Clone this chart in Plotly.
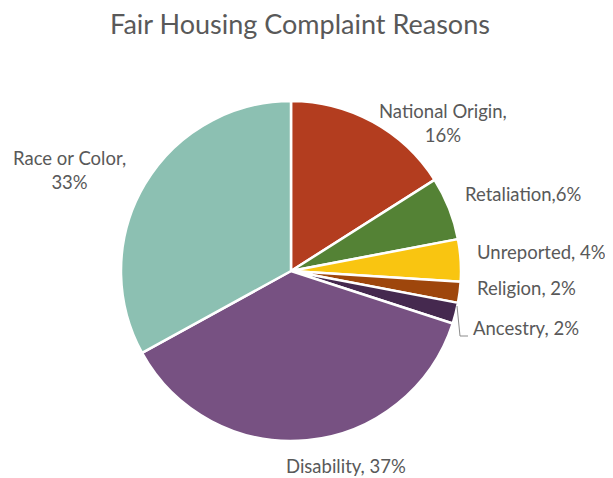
import plotly.graph_objects as go

W, H = 613, 478
# the page body adds an 8px margin, so picture coordinates are offset by it
OFFSET = 8

reasons = [
    "National Origin",
    "Retaliation",
    "Unreported",
    "Religion",
    "Ancestry",
    "Disability",
    "Race or Color",
]
shares = [16, 6, 4, 2, 2, 37, 33]
colors = ["#B33D1F", "#548235", "#F9C511", "#9E460C", "#45294F", "#775182", "#8CC0B2"]

# label text as it appears on the chart
label_text = [
    "National Origin,<br>16%",
    "Retaliation,6%",
    "Unreported, 4%",
    "Religion, 2%",
    "Ancestry, 2%",
    "Disability, 37%",
    "Race or Color,<br>33%",
]
# label anchor points in picture pixels (x, y, xanchor)
label_pos = [
    (443, 123, "center"),
    (463, 194, "left"),
    (475, 252, "left"),
    (475, 288, "left"),
    (471, 328, "left"),
    (346, 466, "center"),
    (69, 170, "center"),
]

cx, cy, r = 291, 271, 170


def px(x):
    return (x - OFFSET) / W


def py(y):
    return 1 - (y - OFFSET) / H


fig = go.Figure(
    go.Pie(
        labels=reasons,
        values=shares,
        sort=False,
        direction="clockwise",
        rotation=0,
        textinfo="none",
        hoverinfo="label+percent",
        marker=dict(colors=colors, line=dict(color="white", width=2.5)),
        domain=dict(x=[px(cx - r), px(cx + r)], y=[py(cy + r), py(cy - r)]),
        showlegend=False,
    )
)

annotations = [
    dict(
        text=t,
        x=px(x),
        y=py(y),
        xref="paper",
        yref="paper",
        xanchor=xa,
        yanchor="middle",
        align="center",
        showarrow=False,
        font=dict(family="Lato", size=18.5, color="#595959"),
    )
    for t, (x, y, xa) in zip(label_text, label_pos)
]

fig.update_layout(
    width=W,
    height=H,
    margin=dict(l=0, r=0, t=0, b=0),
    paper_bgcolor="white",
    plot_bgcolor="white",
    title=dict(
        text="Fair Housing Complaint Reasons",
        x=px(300),
        xanchor="center",
        y=py(25),
        yanchor="middle",
        font=dict(family="Lato", size=27, color="#595959"),
    ),
    annotations=annotations,
    shapes=[
        dict(
            type="path",
            xref="paper",
            yref="paper",
            path=f"M {px(457)} {py(306)} L {px(460)} {py(336)} L {px(468)} {py(336)}",
            line=dict(color="#8C8C8C", width=1),
        )
    ],
)

fig.write_html("out.html")
